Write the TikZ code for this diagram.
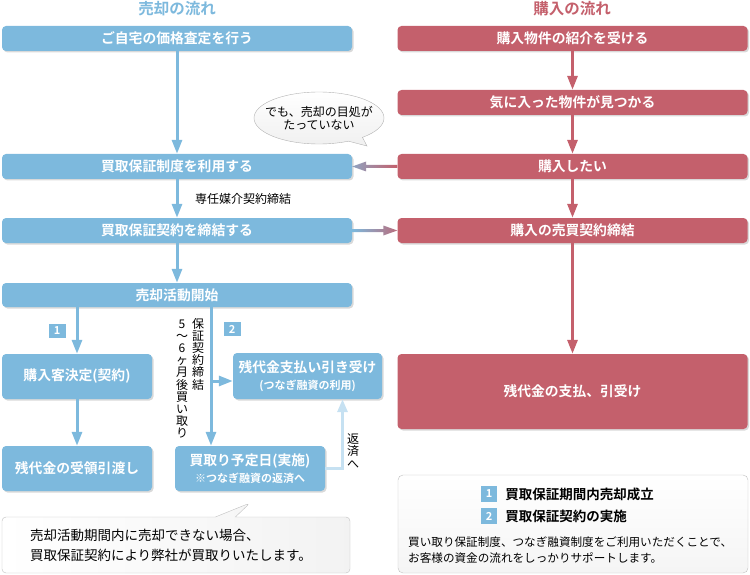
\documentclass[tikz,border=0pt]{standalone}
\usepackage{fontspec}
\setmainfont{Noto Sans CJK JP}[BoldFont={Noto Sans CJK JP Bold}]
\usetikzlibrary{arrows.meta,positioning,shadows,shapes.callouts}
\definecolor{sblue}{HTML}{7DB9DD}
\definecolor{sred}{HTML}{C4606C}
\definecolor{spale}{HTML}{C6E1F2}
\newcommand{\fsz}[2]{\fontsize{#1}{#2}\selectfont}
\tikzset{
  box/.style={rounded corners=4, inner sep=0, align=center, text=white,
    font=\fsz{13.8}{17}\bfseries,
    drop shadow={shadow xshift=1.5pt, shadow yshift=-1.5pt, opacity=0.3}},
  sellbox/.style={box, fill=sblue},
  buybox/.style={box, fill=sred},
  wide/.style={minimum width=350, minimum height=25},
  small/.style={minimum width=150, minimum height=45},
  title/.style={inner sep=0, font=\fsz{15.5}{18}\bfseries},
  sellarrow/.style={draw=sblue, line width=3, -{Triangle[width=10pt,length=14pt]}},
  buyarrow/.style={draw=sred, line width=3, -{Triangle[width=10pt,length=14pt]}},
  paleline/.style={draw=spale, line width=3, -{Triangle[width=10pt,length=13pt]}},
  numtag/.style={fill=sblue, text=white, inner sep=0, font=\fsz{11}{12}\bfseries,
    minimum width=17, minimum height=14},
  vlabel/.style={inner sep=0, align=center, font=\fsz{12}{12.2}},
  plain/.style={inner sep=0, font=\fsz{12}{14}},
  keytext/.style={inner sep=0, anchor=west, font=\fsz{13.5}{16}\bfseries}
}
\begin{document}
\begin{tikzpicture}[x=1pt,y=-1pt]
\useasboundingbox (0,0) rectangle (750,575);
\node[title, text=sblue] (selltitle) at (177,9) {売却の流れ};
\node[title, text=sred] (buytitle) at (572,9) {購入の流れ};

\node[sellbox, wide] (valuation) at (177,38.5) {ご自宅の価格査定を行う};
\node[sellbox, wide] (guarantee) at (177,166.5) {買取保証制度を利用する};
\node[sellbox, wide] (contract) at (177,230.5) {買取保証契約を締結する};
\node[sellbox, wide, minimum height=24] (selling) at (177,295) {売却活動開始};
\node[sellbox, small] (buyer) at (77,376.5) {購入客決定(契約)};
\node[sellbox, small] (handover) at (77,468.5) {残代金の受領引渡し};
\node[sellbox, small, minimum width=149, minimum height=46] (bridge) at (307.5,376)
  {残代金支払い引き受け\\{\fsz{11}{13}(つなぎ融資の利用)}};
\node[sellbox, small] (buyback) at (250,468.5)
  {買取り予定日(実施)\\{\fsz{11}{13}※つなぎ融資の返済へ}};

\node[buybox, wide] (intro) at (572.5,38.5) {購入物件の紹介を受ける};
\node[buybox, wide] (found) at (572.5,102.5) {気に入った物件が見つかる};
\node[buybox, wide] (want) at (572.5,166.5) {購入したい};
\node[buybox, wide] (purchase) at (572.5,230.5) {購入の売買契約締結};
\node[buybox, wide, minimum height=75] (payment) at (572.5,391.5) {残代金の支払、引受け};

\node[ellipse callout, draw=gray!60, top color=white, bottom color=gray!12,
  minimum width=130, minimum height=52, inner xsep=-8pt, inner ysep=5pt,
  align=center, font=\fsz{12}{13.5}, callout absolute pointer={(367,146)}]
  (doubt) at (319,118) {でも、売却の目処が\\たっていない};

\draw[sellarrow] (valuation) -- (guarantee);
\draw[sellarrow] (guarantee) -- (contract);
\node[plain] (agency) at (243,199) {専任媒介契約締結};
\draw[sellarrow] (contract) -- (selling);
\draw[sellarrow] (selling.south -| buyer) -- node[numtag, left=10pt]{1} (buyer.north);
\draw[sellarrow] (buyer) -- (handover);
\coordinate (split) at (211,381);
\draw[sellarrow] (selling.south -| split) -- node[pos=0.16, numtag, right=11pt]{2} (buyback.north -| split);
\draw[sellarrow] (split) -- (split -| bridge.west);
\node[vlabel] (term) at (198,354) {保\\証\\契\\約\\締\\結};
\node[vlabel] (period) at (182,379) {5\\〜\\6\\ヶ\\月\\後\\買\\い\\取\\り};
\draw[paleline] (buyback.east) -| ([xshift=35pt]bridge.south);
\node[vlabel] (repay) at (353,451) {返\\済\\へ};

\draw[buyarrow] (intro) -- (found);
\draw[buyarrow] (found) -- (want);
\draw[buyarrow] (want) -- (purchase);
\draw[buyarrow] (purchase) -- (payment);

\shade[left color=sblue!75!sred, right color=sred]
  (guarantee.east) -- ([shift={(14,5)}]guarantee.east) -- ([shift={(14,1.5)}]guarantee.east)
  -- ([yshift=-1.5pt]want.west) -- ([yshift=1.5pt]want.west)
  -- ([shift={(14,-1.5)}]guarantee.east) -- ([shift={(14,-5)}]guarantee.east) -- cycle;
\shade[left color=sblue, right color=sred!85!sblue]
  (purchase.west) -- ([shift={(-14,5)}]purchase.west) -- ([shift={(-14,1.5)}]purchase.west)
  -- ([yshift=-1.5pt]contract.east) -- ([yshift=1.5pt]contract.east)
  -- ([shift={(-14,-1.5)}]purchase.west) -- ([shift={(-14,-5)}]purchase.west) -- cycle;

\node[rectangle callout, draw=gray!50, left color=white, right color=gray!10,
  rounded corners=4, minimum width=348, minimum height=56, text width=292,
  inner sep=0, align=left, font=\fsz{13.5}{20}, callout pointer width=20,
  callout absolute pointer={(250,503)}]
  (notice) at (176,545) {売却活動期間内に売却できない場合、\\買取保証契約により弊社が買取りいたします。};

\node[draw=gray!50, top color=white, bottom color=gray!8, rounded corners=5,
  minimum width=350, minimum height=98, inner sep=0] (legend) at (573,524) {};
\node[numtag, minimum size=16] (k1) at (489,494) {1};
\node[keytext, right=8pt of k1] (k1text) {買取保証期間内売却成立};
\node[numtag, minimum size=16] (k2) at (489,516) {2};
\node[keytext, right=8pt of k2] (k2text) {買取保証契約の実施};
\node[inner sep=0, anchor=west, align=left, font=\fsz{11.6}{16}] (summary) at (408,550)
  {買い取り保証制度、つなぎ融資制度をご利用いただくことで、\\お客様の資金の流れをしっかりサポートします。};
\end{tikzpicture}
\end{document}
